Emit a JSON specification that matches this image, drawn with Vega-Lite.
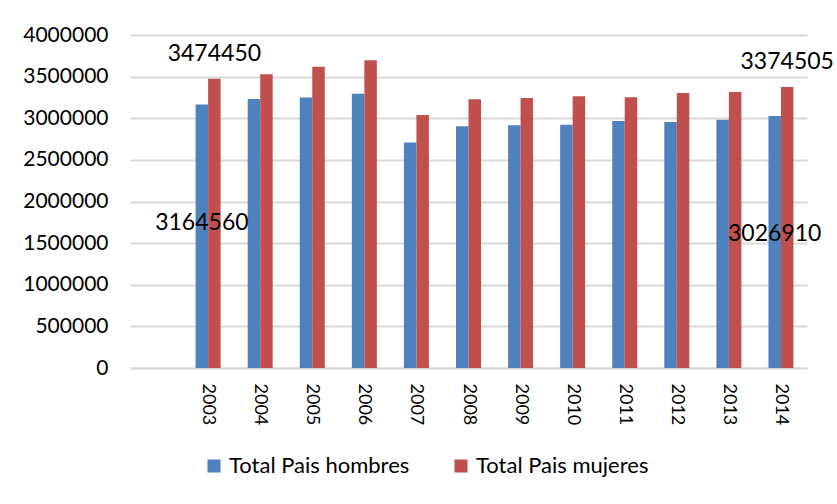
{
  "$schema": "https://vega.github.io/schema/vega-lite/v6.json",
  "autosize": {"type": "none"},
  "width": 677,
  "height": 333,
  "padding": {"left": 130, "top": 35, "right": 30, "bottom": 136},
  "background": "white",
  "config": {
    "font": "Lato",
    "view": {"stroke": null},
    "axis": {"labelFont": "Lato", "labelColor": "#000000"}
  },
  "data": {
    "values": [
      {"year": "2003", "serie": "Total Pais hombres", "value": 3164560},
      {"year": "2003", "serie": "Total Pais mujeres", "value": 3474450},
      {"year": "2004", "serie": "Total Pais hombres", "value": 3232000},
      {"year": "2004", "serie": "Total Pais mujeres", "value": 3530000},
      {"year": "2005", "serie": "Total Pais hombres", "value": 3250000},
      {"year": "2005", "serie": "Total Pais mujeres", "value": 3620000},
      {"year": "2006", "serie": "Total Pais hombres", "value": 3295000},
      {"year": "2006", "serie": "Total Pais mujeres", "value": 3696000},
      {"year": "2007", "serie": "Total Pais hombres", "value": 2710000},
      {"year": "2007", "serie": "Total Pais mujeres", "value": 3040000},
      {"year": "2008", "serie": "Total Pais hombres", "value": 2903000},
      {"year": "2008", "serie": "Total Pais mujeres", "value": 3227000},
      {"year": "2009", "serie": "Total Pais hombres", "value": 2915000},
      {"year": "2009", "serie": "Total Pais mujeres", "value": 3243000},
      {"year": "2010", "serie": "Total Pais hombres", "value": 2923000},
      {"year": "2010", "serie": "Total Pais mujeres", "value": 3263000},
      {"year": "2011", "serie": "Total Pais hombres", "value": 2967000},
      {"year": "2011", "serie": "Total Pais mujeres", "value": 3251000},
      {"year": "2012", "serie": "Total Pais hombres", "value": 2955000},
      {"year": "2012", "serie": "Total Pais mujeres", "value": 3303000},
      {"year": "2013", "serie": "Total Pais hombres", "value": 2983000},
      {"year": "2013", "serie": "Total Pais mujeres", "value": 3315000},
      {"year": "2014", "serie": "Total Pais hombres", "value": 3026910},
      {"year": "2014", "serie": "Total Pais mujeres", "value": 3374505}
    ]
  },
  "encoding": {
    "x": {
      "field": "year",
      "type": "nominal",
      "scale": {
        "domain": [" ", "2003", "2004", "2005", "2006", "2007", "2008", "2009", "2010", "2011", "2012", "2013", "2014"],
        "paddingInner": 0.52,
        "paddingOuter": 0.26
      },
      "axis": {
        "title": null,
        "labelAngle": 90,
        "labelAlign": "left",
        "labelBaseline": "middle",
        "labelFontSize": 18,
        "labelPadding": 15,
        "ticks": false,
        "domainColor": "#D9D9D9",
        "domainWidth": 2
      }
    },
    "xOffset": {"field": "serie", "type": "nominal", "sort": ["Total Pais hombres", "Total Pais mujeres"]},
    "y": {
      "field": "value",
      "type": "quantitative",
      "scale": {"domain": [0, 4000000], "nice": false},
      "axis": {
        "title": null,
        "values": [0, 500000, 1000000, 1500000, 2000000, 2500000, 3000000, 3500000, 4000000],
        "format": "d",
        "labelFontSize": 21,
        "labelPadding": 22,
        "ticks": false,
        "domain": false,
        "gridColor": "#D9D9D9",
        "gridWidth": 2
      }
    }
  },
  "layer": [
    {
      "mark": {"type": "bar"},
      "encoding": {
        "color": {
          "field": "serie",
          "type": "nominal",
          "scale": {"domain": ["Total Pais hombres", "Total Pais mujeres"], "range": ["#4F81BD", "#C0504D"]},
          "legend": {
            "title": null,
            "orient": "none",
            "direction": "horizontal",
            "legendX": 73,
            "legendY": 420,
            "symbolType": "square",
            "symbolSize": 170,
            "symbolStrokeWidth": 0,
            "symbolOpacity": 1,
            "labelFontSize": 22,
            "labelFont": "Lato",
            "labelColor": "#000000",
            "labelLimit": 400,
            "labelOffset": 4,
            "columnPadding": 40
          }
        }
      }
    },
    {
      "transform": [{"filter": "(datum.year == '2003' || datum.year == '2014') && datum.serie == 'Total Pais mujeres'"}],
      "mark": {"type": "text", "fontSize": 23, "dy": -25, "color": "#000000"},
      "encoding": {"text": {"field": "value", "type": "quantitative", "format": "d"}}
    },
    {
      "transform": [{"filter": "(datum.year == '2003' || datum.year == '2014') && datum.serie == 'Total Pais hombres'"}],
      "mark": {"type": "text", "fontSize": 23, "dy": 118, "color": "#000000"},
      "encoding": {"text": {"field": "value", "type": "quantitative", "format": "d"}}
    }
  ]
}
